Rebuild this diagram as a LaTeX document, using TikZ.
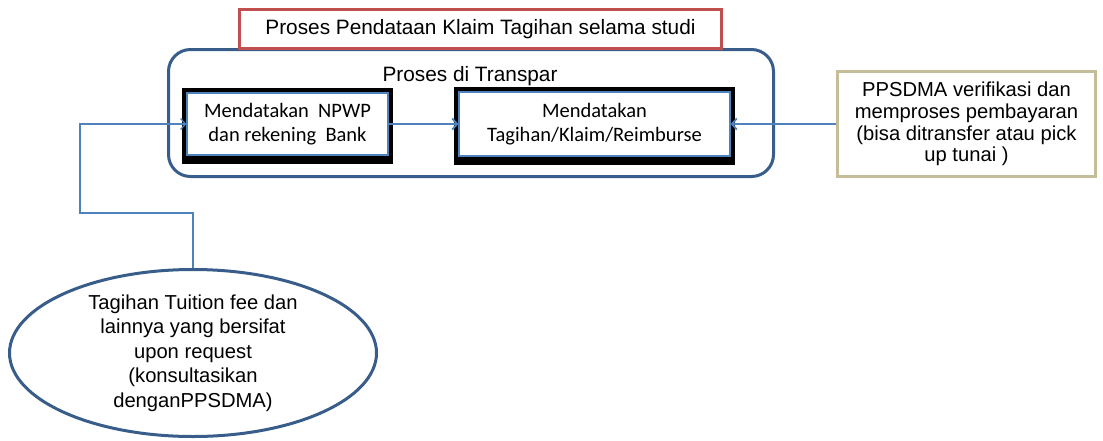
\documentclass[tikz,border=0pt]{standalone}
\usepackage{fontspec}
\setmainfont{Liberation Sans}
\newfontfamily\calibri{Carlito}
\usepackage{xcolor}
\usetikzlibrary{shapes.geometric, arrows.meta, positioning, calc}
\definecolor{frameblue}{HTML}{385D8A}
\definecolor{lineblue}{HTML}{4F81BD}
\definecolor{titlered}{HTML}{C0504D}
\definecolor{tanline}{HTML}{C4BD97}

\begin{document}
\begin{tikzpicture}[
    x=1pt, y=-1pt,
    frame/.style={rectangle, draw=frameblue, line width=3pt, rounded corners=22pt, minimum width=605pt, minimum height=127pt},
    title/.style={rectangle, draw=titlered, line width=2.5pt, fill=white, minimum width=482pt, minimum height=39pt, font=\fontsize{20.8}{24}\selectfont},
    task/.style={rectangle, draw=lineblue, line width=1.2pt, fill=white, inner sep=0pt,
        preaction={draw=black, line width=10pt},
        preaction={draw=black, line width=10pt, transform canvas={yshift=-4pt}},
        align=center, font=\calibri\fontsize{20.5}{24}\selectfont},
    verify/.style={rectangle, draw=tanline, line width=3pt, fill=white, minimum width=258pt, minimum height=105pt, align=center, inner sep=0pt, font=\fontsize{20.2}{21.8}\selectfont},
    request/.style={ellipse, draw=frameblue, line width=3pt, minimum width=367pt, minimum height=167pt, inner sep=0pt},
    arrow/.style={-{Straight Barb[length=5pt, width=11pt]}, draw=lineblue, line width=1.8pt},
    link/.style={-{Straight Barb[length=5pt, width=11pt]}, draw=lineblue, line width=1.2pt}
]
\useasboundingbox (0,0) rectangle (1103,440);

% Frame and title
\node[frame] (transpar) at (471,113) {};
\node[title] (judul) at (480.5,29) {Proses Pendataan Klaim Tagihan selama studi};
\node[font=\fontsize{20.8}{24}\selectfont] (transpar_lbl) at (470,76) {Proses di Transpar};

% Process steps
\node[task, minimum width=201pt, minimum height=62pt] (npwp) at (287.5,124) {Mendatakan~ NPWP\\dan rekening~ Bank};
\node[task, minimum width=271pt, minimum height=64pt] (tagihan) at (594.5,124) {Mendatakan\\Tagihan/Klaim/Reimburse};

% PPSDMA
\node[verify] (ppsdma) at (966.5,124) {PPSDMA verifikasi dan\\memproses pembayaran\\(bisa ditransfer atau pick\\up tunai )};

% Tuition fee
\node[request, label={[align=center, font=\fontsize{20.2}{24.5}\selectfont]center:Tagihan Tuition fee dan\\lainnya yang bersifat\\upon request\\(konsultasikan\\denganPPSDMA)}] (tuition) at (193,353) {};
\coordinate (bend) at (80,213);

% Arrows
\draw[arrow] (npwp) -- (tagihan);
\draw[arrow] (ppsdma) -- (tagihan);
\draw[link] (tuition.north) |- (bend) |- (npwp.west);

\end{tikzpicture}
\end{document}
